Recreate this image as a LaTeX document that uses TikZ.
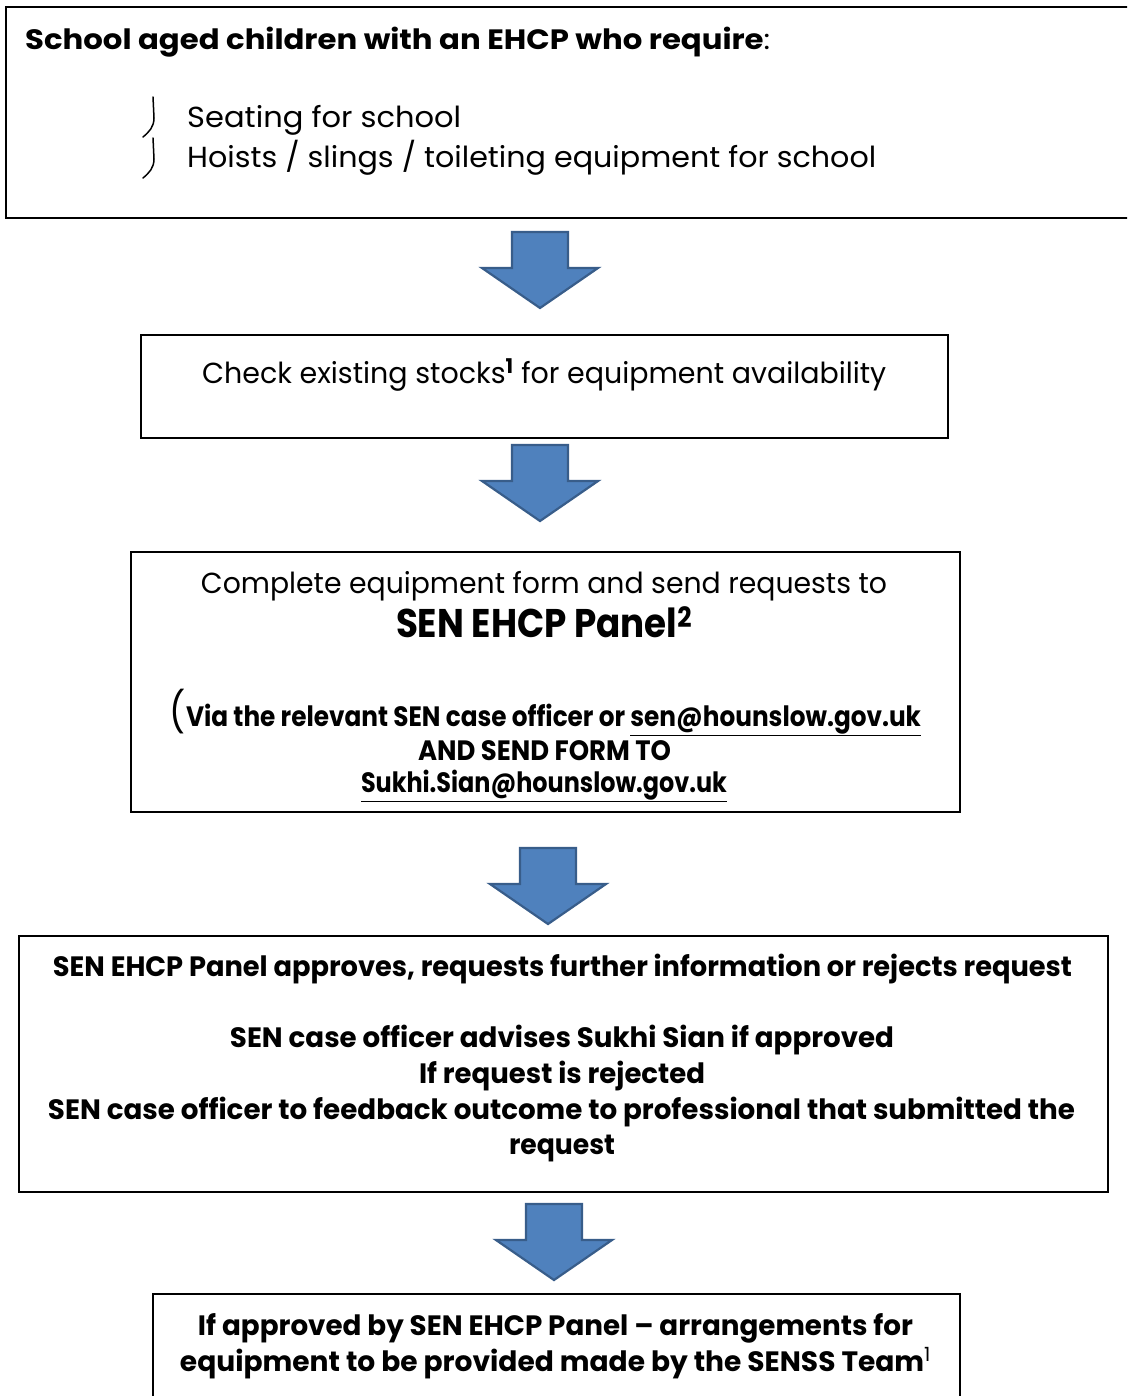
\documentclass[tikz,border=0pt]{standalone}
\usepackage{fontspec}
\usepackage{graphicx}
\setmainfont{Poppins}
\newcommand{\fitw}[2]{\resizebox{#1}{\height}{#2}}
\newcommand{\blockarrow}[2]{% center x, top y
  \draw[arrowshape] (#1-28,#2) -- (#1+28,#2) -- (#1+28,#2+36) -- (#1+58,#2+36)
    -- (#1,#2+76) -- (#1-58,#2+36) -- (#1-28,#2+36) -- cycle;}
\definecolor{arrfill}{HTML}{4F81BD}
\definecolor{arrline}{HTML}{385D8A}
\begin{document}
\begin{tikzpicture}[x=1pt,y=-1pt,
  box/.style={draw=black,line width=1.6pt,inner sep=0pt,anchor=north west},
  arrowshape/.style={fill=arrfill,draw=arrline,line width=2.2pt,line join=miter},
  reg/.style={inner sep=0pt,font=\fontsize{29}{34}\selectfont},
  bld/.style={inner sep=0pt,font=\fontsize{28}{34}\selectfont\bfseries},
  hook/.style={line width=1.5pt,line cap=round}]
\useasboundingbox (0,0) rectangle (1127,1396);
\clip (0,0) rectangle (1127,1396);
\fill[white] (0,0) rectangle (1127,1396);

% boxes
\node[box,minimum width=1140pt,minimum height=211pt] (b1) at (5,6) {};
\node[box,minimum width=807pt,minimum height=103pt] (b2) at (140,334) {};
\node[box,minimum width=829pt,minimum height=260pt] (b3) at (130,551) {};
\node[box,minimum width=1089pt,minimum height=256pt] (b4) at (18,935) {};
\node[box,minimum width=807pt,minimum height=140pt] (b5) at (152,1293) {};

% arrows
\blockarrow{540}{232}
\blockarrow{540}{445}
\blockarrow{548}{848}
\blockarrow{554}{1204}

% box 1
\node[bld,anchor=base west] (t1) at (25,50) {\fitw{745pt}{School aged children with an EHCP who require\mdseries:}};
\draw[hook] (153,97) -- (154,118) .. controls (154,127) and (149,132) .. (143,137);
\draw[hook] (153,138) -- (154,159) .. controls (154,168) and (149,173) .. (143,178);
\node[reg,anchor=base west] (t2) at (187,128) {\fitw{274pt}{Seating for school}};
\node[reg,anchor=base west] (t3) at (187,168) {\fitw{689pt}{Hoists / slings / toileting equipment for school}};

% box 2
\node[reg,anchor=base west] (t4) at (202,383) {\fitw{684pt}{Check existing stocks\textsuperscript{\bfseries 1} for equipment availability}};

% box 3
\node[reg,anchor=base] (t5) at (544,593) {\fitw{686pt}{Complete equipment form and send requests to}};
\node[inner sep=0pt,anchor=base,font=\fontsize{40}{44}\selectfont\bfseries] (t6) at (544,637) {\fitw{296pt}{SEN EHCP Panel\textsuperscript{2}}};
\node[bld,anchor=base] (t7) at (545.5,726) {\fitw{751pt}{{\mdseries\fontsize{40}{40}\selectfont(}Via the relevant SEN case officer or \underline{sen@hounslow.gov.uk}}};
\node[bld,anchor=base] (t8) at (544.5,760) {\fitw{253pt}{AND SEND FORM TO}};
\node[bld,anchor=base] (t9) at (544,792) {\fitw{366pt}{\underline{Sukhi.Sian@hounslow.gov.uk}}};

% box 4
\node[bld,anchor=base] (t10) at (562.5,976) {\fitw{1019pt}{SEN EHCP Panel approves, requests further information or rejects request}};
\node[bld,anchor=base] (t11) at (562,1047) {\fitw{664pt}{SEN case officer advises Sukhi Sian if approved}};
\node[bld,anchor=base] (t12) at (562,1083) {\fitw{286pt}{If request is rejected}};
\node[bld,anchor=base] (t13) at (561.5,1119) {\fitw{1027pt}{SEN case officer to feedback outcome to professional that submitted the}};
\node[bld,anchor=base] (t14) at (562,1154) {\fitw{106pt}{request}};

% box 5
\node[bld,anchor=base] (t15) at (555.5,1335) {\fitw{715pt}{If approved by SEN EHCP Panel -- arrangements for}};
\node[bld,anchor=base] (t16) at (555.5,1371) {\fitw{751pt}{equipment to be provided made by the SENSS Team\textsuperscript{\mdseries 1}}};
\end{tikzpicture}
\end{document}
